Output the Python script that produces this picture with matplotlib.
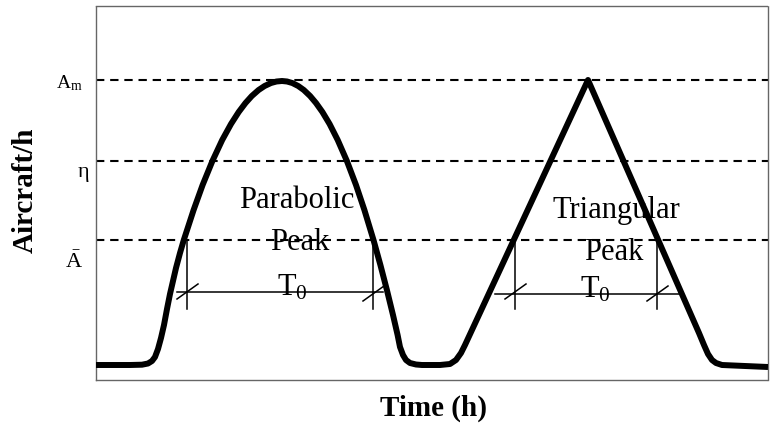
#!/usr/bin/env python3
import matplotlib
matplotlib.use("Agg")
import matplotlib.pyplot as plt

# traffic curve (time offset, aircraft/h above baseline)
time = [0, 34, 46, 52, 56, 59, 62, 65, 68, 71, 74, 77, 80, 84, 87.8, 97.6,
        106.6, 116.4, 126.2, 135, 142.7, 149.5, 155.8, 162.6, 168.6, 175,
        180.5, 186, 191, 196.3, 202.2, 207.8, 214.1, 220, 226.4, 233.6,
        241.7, 250.9, 260, 268.4, 277.5, 284.4, 290.9, 297, 301.6, 304, 307,
        310, 314, 320, 326, 344, 354, 360, 365, 369, 492, 603, 608, 612,
        616, 620, 626, 672]
rate = [0, 0, 0.3, 1.5, 4, 8, 16, 27, 40, 56, 71, 84, 97, 112, 125, 155,
        180, 204, 225, 241, 253, 262, 269, 275, 279, 282,
        283.5, 284, 283.5, 282, 279, 275, 269, 262, 253, 241,
        225, 204, 180, 155, 125, 100, 75, 50, 30, 18, 10,
        5, 2, 0.5, 0, 0, 1, 5, 12, 20, 285, 32, 20, 11,
        5, 2, 0, -2]

# reference levels
levels = [285, 204, 125]
level_labels = [r'$\mathrm{A_m}$', 'η', r'$\bar{\mathrm{A}}$']
level_label_x = [-27, -12, -22]
level_label_y = [277, 188, 97]
level_label_size = [14, 16, 16]

# T0 duration markers: (left, right) crossing times, dimension line height
t0_left = [91, 277]
t0_right = [419, 561]
t0_line_y = [73, 71]
t0_line_span = [(81, 287), (399, 584)]


def main():
    plt.rcParams['font.family'] = ['Liberation Serif', 'DejaVu Serif']
    plt.rcParams['mathtext.fontset'] = 'custom'
    plt.rcParams['mathtext.rm'] = 'Liberation Serif'
    plt.rcParams['mathtext.it'] = 'Liberation Serif:italic'

    fig = plt.figure(figsize=(7.7, 4.26), dpi=100)
    ax = fig.add_axes([96 / 770, 46 / 426, 672 / 770, 374 / 426])
    ax.set_xlim(0, 672)
    ax.set_ylim(-15, 359)
    ax.set_xticks([])
    ax.set_yticks([])
    for sp in ax.spines.values():
        sp.set_linestyle((0, (1, 1)))
        sp.set_linewidth(1)
        sp.set_color('0.4')

    for lv in levels:
        ax.axhline(lv, color='black', lw=1.5, dashes=(4, 2.8), zorder=1)
    for lab, x, y, s in zip(level_labels, level_label_x, level_label_y,
                            level_label_size):
        ax.text(x, y, lab, ha='center', va='baseline', fontsize=s,
                clip_on=False)

    ax.plot(time, rate, color='black', lw=4.3, solid_joinstyle='round',
            solid_capstyle='butt', zorder=3)

    # T0 dimension lines
    for (a, b), y, (x0, x1) in zip(zip(t0_left, t0_right), t0_line_y,
                                    t0_line_span):
        ax.plot([x0, x1], [y, y], color='black', lw=1.1, zorder=2)
        for x in (a, b):
            ax.plot([x, x], [125, 56], color='black', lw=1.1, zorder=2)
            ax.plot([x - 10, x + 11], [y - 7, y + 8], color='black',
                    lw=1.1, zorder=2)

    ax.text(201, 157, 'Parabolic', ha='center', va='baseline', fontsize=22)
    ax.text(204, 115, 'Peak', ha='center', va='baseline', fontsize=22)
    ax.text(196, 70, r'$\mathrm{T_0}$', ha='center', va='baseline',
            fontsize=22)
    ax.text(520, 147, 'Triangular', ha='center', va='baseline', fontsize=22)
    ax.text(518, 105, 'Peak', ha='center', va='baseline', fontsize=22)
    ax.text(499, 68, r'$\mathrm{T_0}$', ha='center', va='baseline',
            fontsize=22)

    fig.text(25 / 770, 1 - 190 / 426, 'Aircraft/h', rotation=90,
             ha='center', va='center', fontsize=21, fontweight='bold')
    fig.text(433 / 770, 1 - 408 / 426, 'Time (h)', ha='center',
             va='center', fontsize=21, fontweight='bold')

    fig.savefig('out.png', dpi=100)


if __name__ == "__main__":
    main()
